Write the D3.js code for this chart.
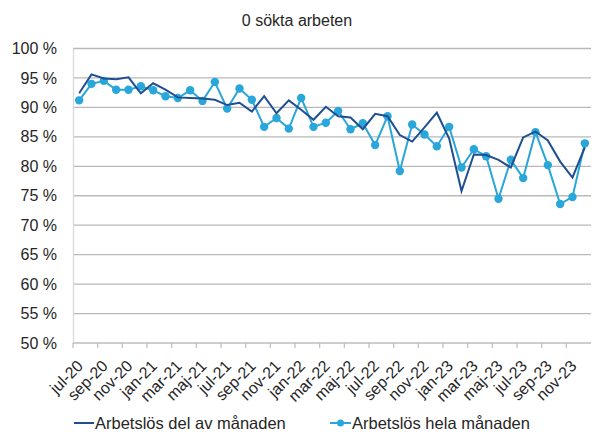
<!DOCTYPE html>
<html><head><meta charset="utf-8">
<script src="https://cdn.jsdelivr.net/npm/d3@7"></script>
<style>body{margin:0;background:#fff}svg{display:block}text{font-family:"Liberation Sans",Arial,sans-serif;fill:#262626}</style>
</head><body><svg id="c" width="592" height="432"></svg>
<script>
const months = ["jul-20","aug-20","sep-20","okt-20","nov-20","dec-20","jan-21","feb-21","mar-21","apr-21","maj-21","jun-21","jul-21","aug-21","sep-21","okt-21","nov-21","dec-21","jan-22","feb-22","mar-22","apr-22","maj-22","jun-22","jul-22","aug-22","sep-22","okt-22","nov-22","dec-22","jan-23","feb-23","mar-23","apr-23","maj-23","jun-23","jul-23","aug-23","sep-23","okt-23","nov-23","dec-23"];
const delAvManaden = [92.4,95.6,94.9,94.8,95.1,92.4,94.1,93.0,91.7,91.6,91.5,91.3,90.4,90.8,89.3,91.9,89.0,91.2,89.6,87.9,90.1,88.5,88.3,86.3,88.9,88.5,85.3,84.2,86.6,89.1,84.7,75.8,82.0,81.9,81.1,79.8,84.9,85.9,84.4,80.8,78.1,83.2];
const helaManaden = [91.2,94.0,94.5,93.0,93.0,93.6,92.9,91.9,91.6,92.9,91.1,94.3,89.8,93.2,91.3,86.7,88.2,86.4,91.6,86.7,87.4,89.4,86.3,87.3,83.6,88.5,79.2,87.1,85.4,83.4,86.7,79.8,82.9,81.7,74.5,81.1,78.0,85.8,80.2,73.6,74.8,83.9];
const yTicks = [50,55,60,65,70,75,80,85,90,95,100];
const title = "0 sökta arbeten";
const seriesNames = ["Arbetslös del av månaden","Arbetslös hela månaden"];

const dark = "#1f4e91", light = "#29a6da";
const svg = d3.select("#c");
const L = 73, R = 591, T = 48.5, B = 343;
const x = d3.scaleBand().domain(months).range([L, R]);
const y = d3.scaleLinear().domain([50, 100]).range([B, T]);
const cx = d => x(d) + x.bandwidth()/2;

svg.append("text").attr("x", 297).attr("y", 26).attr("text-anchor","middle")
  .style("font-size","16px").text(title);

// grid
svg.append("g").selectAll("line").data(yTicks.filter(v=>v>50)).join("line")
  .attr("x1", L).attr("x2", R).attr("y1", d=>y(d)).attr("y2", d=>y(d))
  .attr("stroke","#b9b9b9").attr("stroke-width",1.3);

// y axis
const ya = svg.append("g").attr("transform",`translate(${L},0)`)
  .call(d3.axisLeft(y).tickValues(yTicks).tickSize(0).tickPadding(16).tickFormat(d=>d+" %"));
ya.select(".domain").attr("stroke","#d9d9d9").attr("stroke-width",1.3);
ya.selectAll("text").style("font-size","16px").style("font-family",'"Liberation Sans",Arial,sans-serif').attr("fill","#262626");

// x axis
svg.append("line").attr("x1",L).attr("x2",R).attr("y1",B).attr("y2",B).attr("stroke","#bdbdbd").attr("stroke-width",1.3);
const tickMonths = months.filter((m,i)=>i%2===0);
svg.append("g").selectAll("line").data(tickMonths).join("line")
  .attr("x1",d=>x(d)).attr("x2",d=>x(d)).attr("y1",B).attr("y2",B+5)
  .attr("stroke","#bdbdbd").attr("stroke-width",1.2);
svg.append("g").selectAll("text").data(tickMonths).join("text")
  .attr("transform",d=>`translate(${cx(d)+1},${B+20}) rotate(-45)`)
  .attr("text-anchor","end").attr("dy","0.35em")
  .style("font-size","16px").text(d=>d);

// lines
const line = d3.line().x((d,i)=>cx(months[i])).y(d=>y(d));
svg.append("path").datum(helaManaden).attr("d",line).attr("fill","none").attr("stroke",light).attr("stroke-width",2);
svg.append("g").selectAll("circle").data(helaManaden).join("circle")
  .attr("cx",(d,i)=>cx(months[i])).attr("cy",d=>y(d)).attr("r",4.2).attr("fill",light);
svg.append("path").datum(delAvManaden).attr("d",line).attr("fill","none").attr("stroke",dark).attr("stroke-width",2);

// legend
const lg = svg.append("g");
lg.append("line").attr("x1",74).attr("x2",94).attr("y1",423).attr("y2",423).attr("stroke",dark).attr("stroke-width",2);
lg.append("text").attr("x",95).attr("y",429).style("font-size","16.5px").text(seriesNames[0]);
lg.append("line").attr("x1",330).attr("x2",351).attr("y1",423).attr("y2",423).attr("stroke",light).attr("stroke-width",2);
lg.append("circle").attr("cx",340.5).attr("cy",423).attr("r",3.5).attr("fill",light);
lg.append("text").attr("x",352).attr("y",429).style("font-size","16.5px").text(seriesNames[1]);
</script></body></html>
